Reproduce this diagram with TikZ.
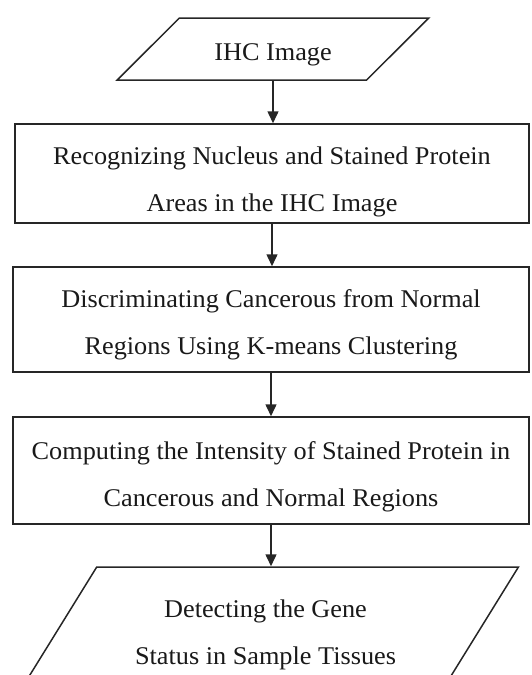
\documentclass[tikz,border=0pt]{standalone}
\usepackage{fontspec}
\setmainfont{Liberation Serif}[FakeStretch=1.03]
\usetikzlibrary{shapes.geometric,arrows.meta}

\begin{document}
\begin{tikzpicture}[x=1pt,y=-1pt,
  every node/.style={font=\fontsize{25.5}{47}\selectfont, text=black!90},
  stepbox/.style={shape=rectangle, draw=black!85, line width=1.5pt, align=center},
  iobox/.style={shape=trapezium, trapezium stretches=true, draw=black!85, line width=1.5pt, align=center},
  lowered/.style={execute at begin node={\rule{0pt}{#1}}},
  arr/.style={draw=black!85, line width=1.5pt, -{Triangle[length=12pt,width=11pt]}}]

\useasboundingbox (0,0) rectangle (531,675);
\clip (0,0) rectangle (531,675);

\path (273,49) node (img) [iobox, lowered=29pt, minimum width=312pt, minimum height=62pt,
  trapezium left angle=45, trapezium right angle=135] {IHC Image};
\path (272,173.5) node (recog) [stepbox, lowered=82pt, minimum width=514pt, minimum height=99pt]
  {Recognizing Nucleus and Stained Protein\\Areas in the IHC Image};
\path (271,319.5) node (discr) [stepbox, lowered=75pt, minimum width=516pt, minimum height=105pt]
  {Discriminating Cancerous from Normal\\Regions Using K-means Clustering};
\path (271,470.5) node (comp) [stepbox, lowered=77pt, minimum width=516pt, minimum height=107pt]
  {Computing the Intensity of Stained Protein in\\Cancerous and Normal Regions};
\path (265.5,635) node (detect) [iobox, minimum width=507pt, minimum height=136pt,
  trapezium left angle=49, trapezium right angle=131]
  {Detecting the Gene\\Status in Sample Tissues};

\draw[arr] (img.center |- img.bottom side) -- (img.center |- recog.north);
\draw[arr] (recog.south) -- (recog.south |- discr.north);
\draw[arr] (discr.south) -- (discr.south |- comp.north);
\draw[arr] (comp.south) -- (comp.south |- detect.top side);

\end{tikzpicture}
\end{document}
